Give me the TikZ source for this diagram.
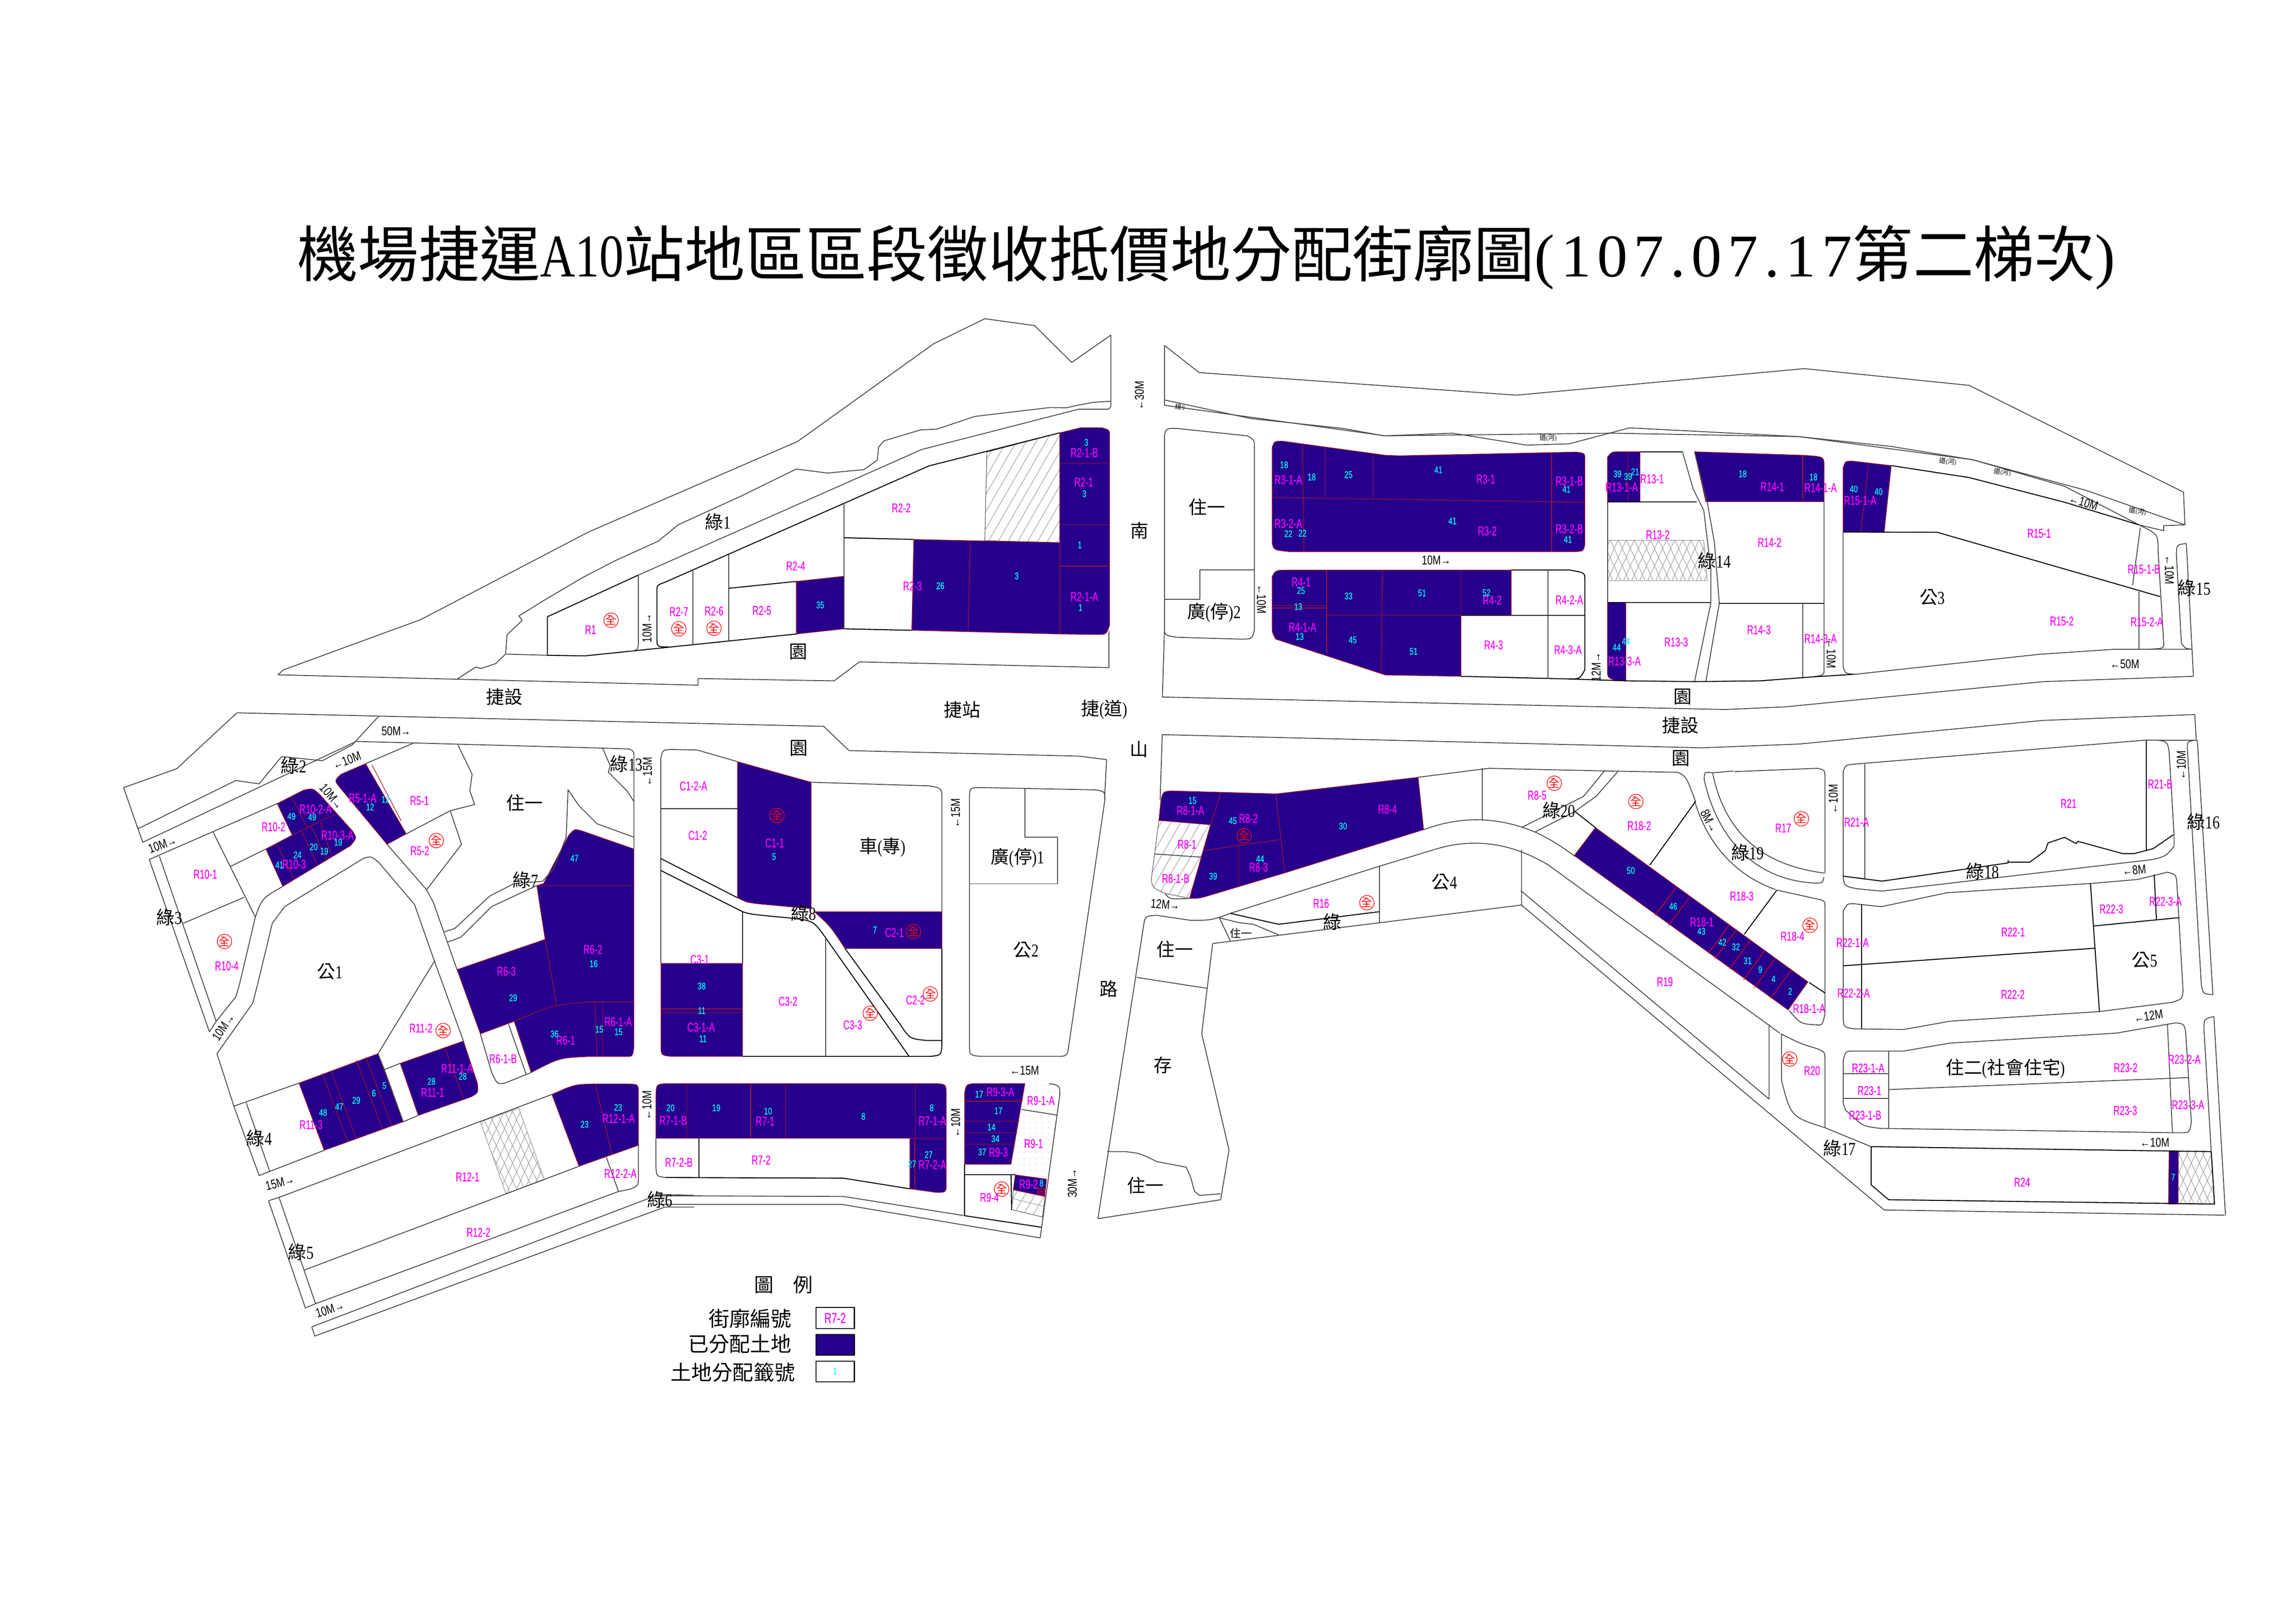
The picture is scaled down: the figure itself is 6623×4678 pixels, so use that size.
\documentclass[tikz,border=0pt]{standalone}
\usepackage{fontspec}
\usepackage{xcolor}
\usepackage{tikz}
\usetikzlibrary{patterns.meta}
\setmainfont[FakeStretch=0.8]{Liberation Serif}
\newfontfamily\cjk{Noto Sans CJK TC}
\newfontfamily\lotfont[FakeStretch=0.68,FakeBold=0.4]{Liberation Sans}
\newfontfamily\numfont[FakeStretch=0.75,FakeBold=0.4]{Liberation Sans}
\newfontfamily\roadfont[FakeStretch=0.77]{Liberation Sans}
\newfontfamily\titlelat[LetterSpace=10]{Liberation Serif}
\newfontfamily\titlenarrow[FakeStretch=0.8]{Liberation Serif}
\newcommand{\zh}[1]{{\cjk #1}}
\definecolor{landblue}{RGB}{38,0,140}
\definecolor{linered}{RGB}{170,20,40}
\definecolor{lotmagenta}{RGB}{255,0,255}
\definecolor{lotcyan}{RGB}{0,255,255}
\definecolor{plotgray}{RGB}{70,70,70}
\definecolor{hatchgray}{RGB}{165,165,165}
\tikzset{
  viewA/.style={shift={(3cm,-8.5cm)},x=0.019133cm,y=-0.008291cm},
  viewB/.style={shift={(33cm,-9.5cm)},x=0.020408cm,y=-0.007653cm},
  viewC/.style={shift={(3cm,-20.5cm)},x=0.010842cm,y=-0.012117cm},
  viewD/.style={shift={(18cm,-21cm)},x=0.009566cm,y=-0.009566cm},
  viewE/.style={shift={(32.5cm,-21cm)},x=0.012117cm,y=-0.009566cm},
  viewF/.style={shift={(50cm,-21cm)},x=0.009566cm,y=-0.009566cm},
  viewG/.style={shift={(18cm,-30.5cm)},x=0.009566cm,y=-0.006378cm},
  plotline/.style={draw=plotgray,line width=.7pt,line join=round},
  plotblack/.style={draw=black,line width=.8pt,line join=round},
  redline/.style={draw=linered,line width=.5pt},
  sold/.style={fill=landblue,draw=linered,line width=.5pt,line join=round},
  hatchlines/.style={pattern={Lines[angle=60,distance=7pt,line width=.5pt]},pattern color=hatchgray,draw=plotgray,line width=.4pt},
  crosslines/.style={pattern={Lines[angle=65,distance=6pt,line width=.5pt]},pattern color=hatchgray,draw=hatchgray,line width=.6pt,
    postaction={pattern={Lines[angle=-65,distance=6pt,line width=.5pt]},pattern color=hatchgray}},
  dotfill/.style={pattern={Dots[distance=5pt,radius=.35pt]},pattern color=hatchgray},
  lot/.style={inner sep=0pt,text=lotmagenta,font=\lotfont\fontsize{10.5}{10.5}\selectfont},
  num/.style={inner sep=0pt,text=lotcyan,font=\numfont\fontsize{8}{8}\selectfont},
  road/.style={inner sep=0pt,text=black,font=\roadfont\fontsize{10.5}{10.5}\selectfont},
  zone/.style={inner sep=0pt,text=black,font=\fontsize{15}{15}\selectfont},
  wee/.style={inner sep=0pt,text=black,font=\fontsize{5.5}{5.5}\selectfont},
  stamp/.style={circle,draw=red,text=red,inner sep=0pt,minimum size=.4cm,line width=.5pt,font=\fontsize{9}{9}\selectfont},
  legendtext/.style={inner sep=0pt,text=black,anchor=east,font=\fontsize{17}{17}\selectfont},
}
\begin{document}
\begin{tikzpicture}[x=0.01cm,y=-0.01cm]
\useasboundingbox (0,0) rectangle (6623,4678);
\fill[white] (0,0) rectangle (6623,4678);

\node[inner sep=0pt,font=\fontsize{49.8}{50}\selectfont] (drawingTitle) at (3480,743) {\zh{機場捷運}{\titlenarrow A10}\zh{站地區區段徵收抵價地分配街廓圖}{\titlelat (107.07.17}\zh{第二梯次}{\titlelat )}};

% roads that run across the views
\path[draw, plotline] (682,2056) -- (2376,2095) -- (2449,2165) -- (3113,2181) -- (3192,2191) -- (3186,2305);
\path[draw, plotline] (3351,2119) -- (4910,2157) -- (5191,2146) -- (5892,2078) -- (6331,2061) -- (6335,2133);
\path[draw, plotline] (4462,2492) -- (5134,2980);
\path[draw, plotline] (4387,2609) -- (5435,3490) -- (6416,3505);
\path[draw, plotline] (4387,2569) -- (5103,3170) -- (5103,2956);
\path[draw, plotline] (4940,2229) -- (5000,2224);
\path[draw, plotline] (4940,2229) .. controls (4975,2400) and (5080,2495) .. (5261,2518);
\path[draw, plotline] (4940,2229) .. controls (4916,2226) .. (4916,2250) .. controls (4960,2440) and (5080,2540) .. (5235,2547) .. controls (5258,2547) .. (5261,2530);
\path[draw, plotline] (4888,2310) .. controls (4930,2450) and (5020,2530) .. (5122,2566);
\path[sold] (4602,2387) -- (5215,2832) -- (5158,2913) -- (4541,2468) -- cycle;
\foreach \a/\b/\c/\d in {4837/2557/4774/2640,4874/2588/4813/2669,4989/2666/4928/2750,5007/2684/4946/2765,5049/2712/4989/2795,5089/2743/5029/2827,5120/2765/5060/2851,5167/2798/5107/2880}
  \path[draw, draw=red, line width=.5pt] (\a,\b) -- (\c,\d);

\begin{scope}[viewA]
\path[hatchlines] (1330,547) -- (1440,480) -- (1440,862) -- (1327,855) -- cycle;
\path[sold] (1043,997) -- (1115,979) -- (1115,1162) -- (1043,1180) -- cycle;
\path[sold] (1220,851) -- (1440,862) -- (1440,1180) -- (1217,1167) -- cycle;
\path[sold] (1440,480) -- (1472,462) -- (1503,462) .. controls (1515,470) .. (1515,490) -- (1515,1150) .. controls (1510,1182) .. (1497,1182) -- (1440,1180) -- cycle;
\path[draw, redline] (1305,857) -- (1302,1170);
\path[draw, redline] (1441,585) -- (1515,585);
\path[draw, redline] (1441,800) -- (1515,800);
\path[draw, redline] (1441,944) -- (1515,944);
\path[draw, plotline] (262,1322) -- (270,1305) -- (477,1130) -- (730,825) -- (1045,510) -- (1250,170) -- (1327,83) -- (1402,107) -- (1458,235) -- (1517,140) -- (1517,370) -- (1490,374) -- (1465,385) -- (1450,393) -- (1425,392) -- (1312,423) -- (1255,467) -- (1230,470) -- (1175,508) -- (1167,530) -- (1165,575) -- (1145,608) -- (1090,620) -- (1043,606) -- (960,700) -- (865,800) -- (835,857) -- (770,925) -- (720,985) -- (665,1060) -- (625,1117) -- (630,1133) -- (607,1183) -- (605,1250) -- (590,1283) -- (568,1300) -- (560,1295) -- (532,1337);
\path[draw, plotline] (262,1322) -- (895,1358) -- (895,1335) -- (1100,1343) -- (1138,1277) -- (1514,1297) -- (1514,1170);
\path[draw, plotline] (605,1250) -- (668,1254);
\path[draw, plotline] (1517,370) -- (1517,385) .. controls (1515,398) .. (1505,398) -- (1468,398) -- (1232,538) -- (805,975);
\path[draw, plotblack] (805,975) -- (668,1120) -- (668,1254) -- (725,1256) -- (1043,1180);
\path[draw, plotblack] (1115,1162) -- (1217,1167);
\path[draw, plotblack] (1440,480) -- (1243,595) -- (845,1000) .. controls (833,1010) .. (833,1030) -- (833,1195) .. controls (833,1225) .. (850,1225);
\path[draw, plotline] (805,975) -- (805,1200) .. controls (805,1235) .. (793,1240);
\path[draw, plotline] (887,960) -- (887,1218);
\path[draw, plotline] (941,905) -- (941,1205);
\path[draw, plotblack] (941,1021) -- (1043,997);
\path[draw, plotline] (1115,728) -- (1115,1162);
\path[draw, plotblack] (1115,845) -- (1220,851);
\foreach \x/\y [count=\i] in {764/1132,866/1162,919/1160}
  \node[stamp] (stampA\i) at (\x,\y) {\zh{全}};
\foreach \x/\y/\t in {733/1165/R1,866/1102/R2-7,919/1100/R2-6,991/1098/R2-5,1042/943/R2-4,1201/741/R2-2,1218/1013/R2-3,1477/549/R2-1-B,1476/651/R2-1,1477/1050/R2-1-A}
  \node[lot] (\t) at (\x,\y) {\t};
\foreach \x/\y/\t [count=\i] in {1260/1012/26,1375/978/3,1079/1079/35,1480/513/3,1477/692/3,1470/870/1,1471/1088/1}
  \node[num] (numA\i) at (\x,\y) {\t};
\foreach \x/\y/\t [count=\i] in {925/790/\zh{綠}1,1046/1242/\zh{園},603/1398/\zh{捷設},1293/1443/\zh{捷站},1507/1443/\zh{捷}(\zh{道}),1560/820/\zh{南}}
  \node[zone] (zoneA\i) at (\x,\y) {\t};
\foreach \x/\y/\r/\t [count=\i] in {818/1160/90/10M→,1560/350/90/←30M,440/1517/0/50M→}
  \node[road, rotate=\r] (roadA\i) at (\x,\y) {\t};
\end{scope}

\begin{scope}[viewB]
\path[crosslines] (654,793) -- (790,793) -- (795,945) -- (654,945) -- cycle;
\path[sold] (180,445) .. controls (183,420) .. (195,420) -- (340,473) -- (360,475) -- (610,461) .. controls (622,465) .. (622,490) -- (622,810) .. controls (620,835) .. (605,836) -- (205,836) .. controls (182,830) .. (180,800) -- cycle;
\path[draw, redline] (180,632) -- (622,650);
\path[draw, redline] (223,430) -- (225,836);
\path[draw, redline] (255,443) -- (255,632);
\path[draw, redline] (323,468) -- (323,637);
\path[draw, redline] (575,464) -- (575,836);
\path[sold] (180,930) .. controls (185,905) .. (205,905) -- (518,905) -- (518,1075) -- (447,1075) -- (447,1305) -- (340,1300) -- (185,1165) .. controls (180,1140) .. (180,1110) -- cycle;
\path[draw, redline] (257,905) -- (257,1215);
\path[draw, redline] (336,905) -- (334,1295);
\path[draw, redline] (447,905) -- (447,1075);
\path[draw, redline] (257,1075) -- (447,1075);
\path[draw, redline] (180,1038) -- (257,1038);
\path[draw, redline] (180,1048) -- (257,1048);
\path[sold] (654,480) .. controls (660,460) .. (670,460) -- (700,460) -- (700,648) -- (654,648) -- cycle;
\path[draw, redline] (683,460) -- (683,648);
\path[sold] (777,460) -- (930,473) .. controls (960,478) .. (960,510) -- (960,648) -- (793,648) -- cycle;
\path[draw, redline] (930,473) -- (930,648);
\path[sold] (654,1028) -- (680,1028) -- (680,1322) -- (665,1320) .. controls (654,1310) .. (654,1280) -- cycle;
\path[sold] (987,520) .. controls (990,495) .. (1000,495) -- (1055,512) -- (1045,762) -- (987,762) -- cycle;
\path[draw, redline] (1023,505) -- (1012,762);
\path[draw, plotline] (28,265) -- (28,60) -- (77,162) -- (525,247) -- (932,147) -- (1165,210) -- (1468,612) -- (1470,735) -- (1440,738) -- (1440,757) -- (1405,735);
\path[draw, plotline] (28,265) -- (150,335) -- (280,372) -- (338,400) -- (435,390) -- (540,435) -- (600,430) -- (685,370) -- (925,403) -- (1170,490) -- (1330,605) -- (1470,735);
\path[draw, plotline] (28,285) -- (340,400) -- (660,390) -- (925,403) -- (1055,440) -- (1170,490) -- (1300,590) -- (1405,735);
\path[draw, plotline] (28,265) -- (28,285);
\path[draw, plotline] (28,400) .. controls (30,372) .. (45,372) -- (145,400) .. controls (155,415) .. (155,440) -- (155,1130) .. controls (152,1165) .. (135,1165) -- (45,1158) .. controls (28,1150) .. (28,1125) -- cycle;
\path[draw, plotline] (155,905) -- (78,905) -- (78,1015) -- (28,1015);
\path[draw, plotblack] (518,905) -- (600,905) .. controls (622,915) .. (622,940) -- (622,1280) .. controls (615,1315) .. (600,1315) -- (447,1305);
\path[draw, plotblack] (447,1075) -- (622,1075);
\path[draw, plotline] (570,905) -- (570,1315);
\path[draw, plotblack] (700,460) -- (760,460);
\path[draw, plotblack] (654,648) -- (780,648);
\path[draw, plotline] (654,648) -- (654,1028);
\path[draw, plotblack] (654,1028) -- (800,1028);
\path[draw, plotline] (760,460) -- (775,600) -- (790,680) -- (800,900) -- (800,1030) -- (777,1325);
\path[draw, plotline] (777,460) -- (795,650) -- (805,800) -- (812,1030) -- (793,1325);
\path[draw, plotblack] (812,1030) -- (960,1030);
\path[draw, plotline] (930,1030) -- (930,1310);
\path[draw, plotline] (960,648) -- (960,1280) .. controls (960,1300) .. (945,1307);
\path[draw, plotblack] (600,1315) -- (680,1322) -- (777,1325) -- (870,1322) -- (945,1307) -- (1005,1297);
\path[draw, plotblack] (1055,512) -- (1165,557) -- (1300,650) -- (1405,735);
\path[draw, plotblack] (987,762) -- (1120,763) -- (1435,1005);
\path[draw, plotline] (987,762) -- (987,1270) .. controls (990,1295) .. (1005,1297) -- (1265,1222) -- (1372,1203) -- (1420,1203) .. controls (1440,1200) .. (1440,1180) -- (1432,830) .. controls (1432,770) .. (1405,735);
\path[draw, plotline] (1407,745) -- (1396,962);
\path[draw, plotline] (1405,985) -- (1405,1203);
\path[draw, plotline] (1472,805) .. controls (1458,810) .. (1458,850) -- (1465,1180) .. controls (1470,1200) .. (1480,1203) -- (1372,1203);
\path[draw, plotline] (1472,805) -- (1480,1203) -- (1482,1305);
\path[draw, plotline] (28,1125) -- (25,1383) -- (820,1430) -- (905,1420) -- (1270,1325) -- (1482,1305);
\foreach \x/\y/\t in {203/565/R3-1-A,482/563/R3-1,600/570/R3-1-B,203/730/R3-2-A,484/758/R3-2,600/750/R3-2-B,221/950/R4-1,491/1018/R4-2,600/1017/R4-2-A,223/1120/R4-1-A,493/1187/R4-3,598/1205/R4-3-A,717/562/R13-1,674/593/R13-1-A,887/591/R14-1,955/595/R14-1-A,725/772/R13-2,883/801/R14-2,751/1176/R13-3,678/1248/R13-3-A,868/1130/R14-3,955/1163/R14-3-A,1011/643/R15-1-A,1264/767/R15-1,1296/1097/R15-2,1412/902/R15-1-B,1416/1100/R15-2-A}
  \node[lot] (\t) at (\x,\y) {\t};
\foreach \x/\y/\t [count=\i] in {197/509/18,236/555/18,288/546/25,415/528/41,596/601/41,203/768/22,223/766/22,435/720/41,598/790/41,221/982/25,288/1003/33,392/991/51,483/990/52,217/1043/13,219/1155/13,294/1168/45,380/1211/51,668/543/39,683/553/39,693/535/21,845/543/18,945/555/18,680/1173/44,667/1196/44,1002/600/40,1037/610/40}
  \node[num] (numB\i) at (\x,\y) {\t};
\foreach \x/\y/\t [count=\i] in {88/668/\zh{住一},98/1065/\zh{廣}(\zh{停})2,805/870/\zh{綠}14,1113/1008/\zh{公}3,1483/972/\zh{綠}15,760/1382/\zh{園},757/1490/\zh{捷設}}
  \node[zone] (zoneB\i) at (\x,\y) {\t};
\foreach \x/\y/\r/\t [count=\i] in {412/868/0/10M→,165/1015/-90/←10M,970/1220/-90/←10M,638/1270/90/12M→,1448/905/-90/←10M,1327/650/-17/←10M,1385/1258/0/←50M}
  \node[road, rotate=\r] (roadB\i) at (\x,\y) {\t};
\foreach \x/\y/\r/\t [count=\i] in {50/292/-8/\zh{綠}9,570/408/0/\zh{道}(\zh{河}),1135/497/-8/\zh{道}(\zh{河}),1212/537/-8/\zh{道}(\zh{河}),1403/685/-8/\zh{道}(\zh{河})}
  \node[wee, rotate=\r] (weeB\i) at (\x,\y) {\t};
\end{scope}

\begin{scope}[viewC]
\path[crosslines] (1000,977) -- (1102,945) -- (1170,1115) -- (1068,1148) -- cycle;
\path[sold] (695,125) -- (803,292) -- (752,317) -- (625,180) .. controls (612,165) .. (630,150) -- cycle;
\path[draw, redline] (712,128) -- (790,262);
\path[sold] (460,220) -- (530,188) .. controls (555,183) .. (575,200) -- (660,285) .. controls (672,302) .. (655,320) -- (475,417) -- (430,328) -- (500,295) -- cycle;
\path[draw, redline] (500,205) -- (540,278);
\path[draw, redline] (500,295) -- (615,245);
\path[draw, redline] (525,285) -- (568,367);
\path[draw, redline] (550,272) -- (590,352);
\path[draw, redline] (575,265) -- (605,345);
\path[draw, redline] (460,318) -- (505,400);
\path[sold] (1150,415) -- (1168,410) -- (1235,295) .. controls (1250,280) .. (1270,285) -- (1408,328) -- (1408,800) .. controls (1405,822) .. (1385,822) -- (1285,822) .. controls (1210,825) .. (1135,860) -- (1090,738) -- (1000,768) -- (938,615) -- (1172,543) -- cycle;
\path[draw, redline] (1150,415) -- (1408,415);
\path[draw, redline] (1172,543) -- (1203,700);
\path[draw, redline] (1090,738) .. controls (1190,700) .. (1285,692) -- (1408,692);
\path[draw, redline] (1305,692) -- (1310,822);
\path[draw, redline] (1325,692) -- (1325,822);
\path[sold] (518,885) -- (728,815) -- (795,977) -- (585,1045) -- cycle;
\path[draw, redline] (580,862) -- (648,1025);
\path[draw, redline] (603,855) -- (670,1017);
\path[draw, redline] (670,830) -- (740,995);
\path[draw, redline] (695,823) -- (765,987);
\path[sold] (787,838) -- (955,785) -- (992,885) .. controls (995,908) .. (975,918) -- (835,962) -- cycle;
\path[draw, redline] (905,800) -- (955,920);
\path[sold] (1190,912) .. controls (1250,888) .. (1305,887) -- (1395,887) .. controls (1420,888) .. (1420,910) -- (1420,1033) -- (1262,1083) -- cycle;
\path[draw, redline] (1305,887) -- (1350,1055);
\path[draw, plotline] (90,280) -- (52,182) -- (193,137) -- (352,5);
\path[draw, plotline] (90,280) -- (350,165) -- (412,173) -- (472,108) -- (580,118) -- (660,80) -- (730,12);
\path[draw, plotline] (90,280) -- (103,312) -- (670,72) -- (1325,88) -- (1395,90) .. controls (1408,95) .. (1408,110) -- (1408,328);
\path[draw, plotline] (820,77) -- (695,125);
\path[draw, plotline] (940,80) -- (978,150) -- (972,190) -- (985,222) -- (920,237) -- (803,292);
\path[draw, plotline] (752,317) -- (857,425) -- (950,317) -- (920,237);
\path[draw, plotline] (857,425) -- (875,455) -- (938,615);
\path[draw, plotline] (905,525) -- (932,517) -- (1025,440) -- (1090,410) -- (1165,405) -- (1195,375) -- (1228,300) -- (1233,187) -- (1262,225) -- (1310,268) -- (1408,300);
\path[draw, plotline] (912,550) -- (948,538) -- (1030,465) -- (1150,415);
\path[draw, plotline] (1325,88) -- (1345,130) -- (1340,145) -- (1390,190) -- (1408,215);
\path[draw, plotline] (120,353) -- (460,220);
\path[draw, plotline] (120,353) -- (280,763) -- (298,738) -- (350,680) -- (360,650) -- (402,490) .. controls (420,445) .. (475,417);
\path[draw, plotline] (147,345) -- (298,738);
\path[draw, plotline] (210,505) -- (372,443);
\path[draw, plotline] (290,288) -- (402,490);
\path[draw, plotline] (335,370) -- (430,328);
\path[draw, plotline] (300,815) -- (395,695) -- (408,650) -- (447,505) -- (480,465) -- (690,350) .. controls (710,345) .. (730,360) -- (825,460) -- (878,595) -- (955,785);
\path[draw, plotline] (300,815) -- (345,940) -- (518,885);
\path[draw, plotline] (345,940) -- (412,1105) -- (585,1045);
\path[draw, plotline] (378,932) -- (440,1095);
\path[draw, plotline] (728,815) -- (878,595);
\path[draw, plotline] (728,815) -- (745,853) -- (787,838);
\path[draw, plotline] (745,853) -- (795,977);
\path[draw, plotline] (795,977) -- (835,962);
\path[draw, plotline] (1000,768) -- (1030,860) .. controls (1045,888) .. (1065,885) -- (1135,860);
\path[draw, plotline] (1075,745) -- (1122,865);
\path[draw, plotline] (465,1157) -- (1190,912);
\path[draw, plotline] (437,1165) -- (465,1157) -- (562,1410);
\path[draw, plotline] (437,1165) -- (535,1420) -- (562,1410) -- (1367,1143);
\path[draw, plotline] (532,1330) -- (1262,1083);
\path[draw, plotline] (1420,1033) -- (1420,1105) .. controls (1420,1130) .. (1395,1138) -- (1367,1143) -- (1335,1062);
\path[draw, plotline] (552,1465) -- (1475,1150) -- (1568,1152);
\path[draw, plotline] (552,1465) -- (560,1487) -- (1490,1180) -- (1568,1180);
\foreach \x/\y [count=\i] in {883/308,320/548,901/760}
  \node[stamp] (stampC\i) at (\x,\y) {\zh{全}};
\foreach \x/\y/\t in {687/207/R5-1-A,838/213/R5-1,562/233/R10-2-A,450/275/R10-2,620/295/R10-3-A,505/364/R10-3,269/388/R10-1,839/332/R5-2,326/606/R10-4,1299/567/R6-2,1069/619/R6-3,1366/739/R6-1-A,1227/783/R6-1,842/754/R11-2,1060/827/R6-1-B,938/850/R11-1-A,873/907/R11-1,1367/969/R12-1-A,550/984/R11-3,966/1108/R12-1,1372/1100/R12-2-A,995/1240/R12-2}
  \node[lot] (\t) at (\x,\y) {\t};
\foreach \x/\y/\t [count=\i] in {748/210/12,707/228/12,498/250/49,553/252/49,622/312/19,557/323/20,585/333/19,514/342/24,466/366/41,1250/350/47,1301/601/16,1087/682/29,1316/757/15,1367/763/15,1197/768/36,953/869/28,870/881/28,745/891/5,717/909/6,670/926/29,625/941/47,582/955/48,1366/943/23,1277/983/23}
  \node[num] (numC\i) at (\x,\y) {\t};
\foreach \x/\y/\t [count=\i] in {504/130/\zh{綠}2,1118/218/\zh{住一},1388/125/\zh{綠}13,1120/402/\zh{綠}7,173/490/\zh{綠}3,600/620/\zh{公}1,412/1016/\zh{綠}4,523/1287/\zh{綠}5}
  \node[zone] (zoneC\i) at (\x,\y) {\t};
\foreach \x/\y/\r/\t [count=\i] in {155/317/20/10M→,645/117/20/←10M,605/203/-50/10M→,317/752/55/10M→,467/1122/15/15M→,600/1423/18/10M→}
  \node[road, rotate=\r] (roadC\i) at (\x,\y) {\t};
\end{scope}

\begin{scope}[viewD]
\path[hatchlines] (1172,1390) -- (1267,1410) -- (1260,1472) -- (1167,1450) -- cycle;
\path[draw, hatchgray, line width=.5pt] (1172,1417) -- (1265,1440);
\path[dotfill] (1207,1070) -- (1280,1070) .. controls (1312,1075) .. (1312,1105) -- (1272,1360) -- (1165,1343) -- cycle;
\path[sold] (341,100) -- (563,162) -- (563,543) -- (420,530) .. controls (370,525) .. (341,510) -- cycle;
\path[sold] (572,552) -- (957,552) -- (957,663) -- (665,663) .. controls (620,595) .. (572,552) -- cycle;
\path[sold] (110,708) -- (356,708) -- (356,988) -- (140,988) .. controls (110,985) .. (110,950) -- cycle;
\path[draw, redline] (110,845) -- (356,845);
\path[draw, redline] (110,857) -- (356,857);
\path[sold] (95,1100) .. controls (97,1072) .. (125,1070) -- (940,1070) .. controls (970,1072) .. (970,1105) -- (970,1235) -- (95,1235) -- cycle;
\path[draw, redline] (188,1070) -- (188,1235);
\path[draw, redline] (381,1070) -- (381,1235);
\path[draw, redline] (485,1070) -- (485,1235);
\path[draw, redline] (877,1070) -- (877,1235);
\path[sold] (860,1235) -- (970,1235) -- (970,1370) .. controls (970,1398) .. (940,1398) -- (860,1387) -- cycle;
\path[draw, redline] (875,1235) -- (875,1390);
\path[sold] (1025,1100) .. controls (1030,1072) .. (1055,1070) -- (1207,1070) -- (1165,1313) -- (1025,1313) -- cycle;
\path[draw, redline] (1025,1123) -- (1200,1123);
\path[draw, redline] (1025,1183) -- (1190,1183);
\path[draw, redline] (1025,1218) -- (1184,1218);
\path[draw, redline] (1025,1253) -- (1178,1253);
\path[sold] (1178,1345) -- (1272,1358) -- (1267,1410) -- (1172,1390) -- cycle;
\path[draw, plotline] (110,90) .. controls (115,65) .. (140,63) -- (220,65) -- (341,100);
\path[draw, plotline] (563,162) -- (920,173) .. controls (957,180) .. (957,215) -- (957,552);
\path[draw, plotblack] (957,663) -- (957,950) .. controls (955,985) .. (920,988) -- (356,988);
\path[draw, plotline] (110,90) -- (110,708);
\path[draw, plotblack] (110,242) -- (341,242);
\path[draw, plotblack] (110,392) -- (341,510);
\path[draw, plotblack] (110,428) -- (356,552) .. controls (380,560) .. (510,572) .. controls (570,580) .. (606,630) -- (858,988);
\path[draw, plotblack] (665,663) -- (830,890) .. controls (860,935) .. (910,940) -- (957,940);
\path[draw, plotblack] (356,552) -- (356,708);
\path[draw, plotline] (606,630) -- (606,988);
\path[draw, plotline] (1040,215) .. controls (1040,178) .. (1075,178) -- (1420,185) .. controls (1448,190) .. (1448,215) -- (1340,950) .. controls (1335,988) .. (1300,988) -- (1075,988) .. controls (1040,985) .. (1040,950) -- cycle;
\path[draw, plotline] (1207,180) -- (1207,327) -- (1305,327) -- (1305,468) -- (1040,468);
\path[draw, plotblack] (125,1353) -- (660,1355) -- (860,1387);
\path[draw, plotline] (95,1235) -- (95,1320) .. controls (97,1350) .. (125,1353);
\path[draw, plotblack] (225,1235) -- (225,1353);
\path[draw, plotblack] (1025,1313) -- (1025,1468) -- (1258,1503);
\path[draw, plotblack] (1025,1345) -- (1165,1345) -- (1178,1345);
\path[draw, plotblack] (1165,1343) -- (1167,1450);
\path[draw, plotline] (1197,1148) -- (1305,1165);
\path[draw, plotline] (1280,1070) .. controls (1312,1075) .. (1312,1105) -- (1253,1535) -- (655,1434) -- (105,1434);
\path[draw, plotline] (105,1408) -- (660,1410) -- (1025,1468);
\foreach \x/\y [count=\i] in {460/262,871/612,741/858,922/800,1137/1388}
  \node[stamp] (stampD\i) at (\x,\y) {\zh{全}};
\node[stamp, minimum size=.22cm, font=\fontsize{4}{4}\selectfont] (stampD6) at (1256,1395) {\zh{全}};
\foreach \x/\y/\t in {208/173/C1-2-A,221/322/C1-2,453/345/C1-1,814/615/C2-1,227/696/C3-1,231/900/C3-1-A,493/822/C3-2,688/893/C3-3,877/818/C2-2,147/1181/R7-1-B,424/1183/R7-1,928/1182/R7-1-A,164/1307/R7-2-B,412/1300/R7-2,928/1314/R7-2-A,1133/1095/R9-3-A,1127/1277/R9-3,1255/1121/R9-1-A,1233/1251/R9-1,1218/1373/R9-2,1100/1413/R9-4}
  \node[lot] (\t) at (\x,\y) {\t};
\foreach \x/\y/\t [count=\i] in {451/386/5,755/607/7,233/776/38,233/850/11,237/935/11,139/1143/20,277/1143/19,433/1153/10,720/1169/8,926/1143/8,867/1312/27,917/1284/27,1069/1102/17,1127/1152/17,1106/1201/14,1118/1236/34,1078/1276/37,1257/1370/8}
  \node[num] (numD\i) at (\x,\y) {\t};
\foreach \x/\y/\t [count=\i] in {525/60/\zh{園},778/358/\zh{車}(\zh{專}),1185/390/\zh{廣}(\zh{停})1,1210/668/\zh{公}2,1460/785/\zh{路},540/557/\zh{綠}8,107/1420/\zh{綠}6}
  \node[zone] (zoneD\i) at (\x,\y) {\t};
\foreach \x/\y/\r/\t [count=\i] in {70/130/90/←15M,998/255/90/←15M,1206/1030/0/←15M,68/1135/90/←10M,998/1188/90/←10M,1350/1370/90/30M→}
  \node[road, rotate=\r] (roadD\i) at (\x,\y) {\t};
\end{scope}

\begin{scope}[viewE]
\path[hatchlines] (75,277) -- (198,290) -- (148,512) -- (90,497) .. controls (60,480) .. (57,455) -- cycle;
\path[draw, plotline] (65,378) -- (178,388);
\path[sold] (75,277) -- (80,215) .. controls (85,190) .. (105,188) -- (355,197) -- (692,147) -- (705,305) -- (375,435) -- (190,505) .. controls (170,512) .. (148,512) -- (198,290) -- cycle;
\path[draw, redline] (222,195) -- (198,290);
\path[draw, redline] (353,197) -- (375,435);
\path[draw, redline] (180,368) -- (363,335);
\path[draw, redline] (265,355) -- (265,478);
\path[draw, plotline] (83,20) -- (78,215);
\path[draw, plotline] (692,147) -- (860,120) -- (1135,128) -- (1310,132) .. controls (1330,145) .. (1352,220);
\path[draw, plotline] (845,120) -- (845,277);
\path[draw, plotline] (705,305) .. controls (810,255) and (900,275) .. (970,312) .. controls (1010,335) and (1040,362) .. (1065,385);
\path[draw, plotline] (245,557) -- (600,415) -- (730,365) .. controls (830,325) and (920,350) .. (1000,410);
\path[draw, plotline] (148,512) .. controls (100,515) .. (90,497);
\path[draw, plotline] (-70,1477) -- (38,600) .. controls (42,565) .. (70,563) -- (150,578) .. controls (200,578) .. (245,557);
\path[draw, plotline] (22,750) -- (190,783);
\path[draw, plotline] (203,648) -- (190,783) -- (177,920) -- (242,1270) -- (222,1420) -- (-70,1477);
\path[draw, plotline] (203,648) -- (938,532) -- (938,365);
\path[draw, plotline] (218,568) -- (245,640);
\path[draw, plotline] (218,570) -- (265,585) -- (300,590) -- (360,622);
\path[draw, plotblack] (245,557) -- (360,590) -- (600,552);
\path[draw, plotline] (600,415) -- (600,585);
\path[draw, plotline] (-48,1275) -- (-5,1275) .. controls (30,1280) .. (70,1305) -- (140,1322) -- (150,1350) -- (160,1395) -- (172,1407) -- (222,1402);
\path[draw, plotline] (1135,128) -- (1105,175) -- (1085,205) -- (940,297);
\path[draw, plotline] (1167,130) -- (1115,205) -- (1065,250) -- (970,312);
\path[draw, plotblack] (1065,250) -- (1115,300);
\path[draw, plotblack] (1352,220) -- (1243,412);
\foreach \x/\y [count=\i] in {278/323,1016/165,1210/220,570/525}
  \node[stamp] (stampE\i) at (\x,\y) {\zh{全}};
\foreach \x/\y/\t in {150/247/R8-1-A,288/271/R8-2,619/243/R8-4,142/349/R8-1,115/452/R8-1-B,312/418/R8-3,975/201/R8-5,1218/293/R18-2,1462/505/R18-3,1367/583/R18-1,1279/763/R19,461/527/R16}
  \node[lot] (\t) at (\x,\y) {\t};
\foreach \x/\y/\t [count=\i] in {155/217/15,251/278/45,513/294/30,204/445/39,316/393/44,1198/428/50,1299/536/46,1366/611/43,1416/644/42,1448/658/32}
  \node[num] (numE\i) at (\x,\y) {\t};
\foreach \x/\y/\t [count=\i] in {28/62/\zh{山},1317/90/\zh{園},1027/246/\zh{綠}20,754/463/\zh{公}4,488/582/\zh{綠},113/665/\zh{住一},85/1015/\zh{存},43/1377/\zh{住一}}
  \node[zone] (zoneE\i) at (\x,\y) {\t};
\node[zone, font=\fontsize{9}{9}\selectfont] (zoneE9) at (270,617) {\zh{住一}};
\foreach \x/\y/\r/\t [count=\i] in {1385/278/-62/8M→,90/530/-5/12M→}
  \node[road, rotate=\r] (roadE\i) at (\x,\y) {\t};
\end{scope}

\begin{scope}[viewF]
\path[dotfill] (225,765) -- (273,797) -- (273,860) .. controls (265,895) .. (245,893) .. controls (200,890) .. (165,850) -- cycle;
\path[crosslines] (1338,1273) -- (1437,1275) -- (1447,1433) -- (1337,1433) -- cycle;
\path[sold] (1310,1273) -- (1338,1273) -- (1337,1433) -- (1308,1433) -- cycle;
\path[draw, plotline] (0,130) -- (250,120) .. controls (273,125) .. (273,150) -- (273,437);
\path[draw, plotline] (128,487) -- (255,515) .. controls (273,520) .. (273,540) -- (273,860);
\path[draw, plotblack] (128,487) -- (30,620);
\path[draw, plotblack] (225,765) -- (273,797);
\path[draw, plotline] (165,850) .. controls (200,890) .. (245,893) .. controls (265,895) .. (273,860);
\path[draw, plotline] (328,130) .. controls (335,110) .. (355,108) -- (1240,35) -- (1275,35) .. controls (1305,40) .. (1310,70) -- (1325,320) -- (1325,355) .. controls (1300,385) .. (1260,395) -- (445,490) .. controls (330,480) .. (328,445) -- cycle;
\path[draw, plotline] (393,108) -- (393,455);
\path[draw, plotblack] (1241,35) -- (1241,368);
\path[draw, plotblack] (328,445) -- (445,460) -- (825,405) -- (825,397) -- (825,403) -- (890,403) -- (937,368) -- (945,345) -- (995,328) -- (1030,347) -- (1035,340) -- (1170,377) -- (1205,377) -- (1262,362) -- (1323,320);
\path[draw, plotline] (1275,35) -- (1395,35);
\path[draw, plotline] (328,550) .. controls (340,528) .. (360,528) -- (443,537) -- (640,495) -- (1075,467) -- (1215,455) -- (1305,433) .. controls (1330,440) .. (1333,460) -- (1352,790) .. controls (1350,815) .. (1320,825) -- (1100,853) -- (650,882) -- (510,907) -- (360,905) .. controls (330,900) .. (328,875) -- cycle;
\path[draw, plotblack] (383,530) -- (383,905);
\path[draw, plotblack] (328,715) -- (1088,662);
\path[draw, plotblack] (1073,467) -- (1100,853);
\path[draw, plotblack] (1084,595) -- (1340,570);
\path[draw, plotblack] (1265,440) -- (1272,577);
\path[draw, plotline] (328,1000) .. controls (335,972) .. (360,972) -- (510,972) -- (650,948) -- (1150,918) -- (1330,887) .. controls (1355,890) .. (1360,915) -- (1377,1185) .. controls (1372,1218) .. (1345,1218) -- (1320,1218) -- (440,1205) .. controls (400,1200) .. (380,1190) -- (335,1150) -- (328,1130) -- cycle;
\path[draw, plotline] (465,972) -- (465,1205);
\path[draw, plotline] (328,1040) -- (465,1040);
\path[draw, plotline] (328,1115) -- (465,1115);
\path[draw, plotline] (465,1088) -- (1368,1052);
\path[draw, plotline] (1305,890) -- (1320,1218);
\path[draw, plotblack] (412,1260) -- (1437,1275) -- (1447,1433) -- (465,1420) -- (412,1375) -- cycle;
\path[draw, plotline] (273,1203) -- (412,1260);
\path[draw, plotline] (140,920) .. controls (200,950) .. (250,965) .. controls (273,975) .. (273,1000) -- (273,1203);
\path[draw, plotline] (142,920) -- (142,1060) .. controls (170,1170) .. (273,1203);
\path[draw, plotline] (1395,35) .. controls (1365,38) .. (1365,60) -- (1407,770) .. controls (1412,800) .. (1442,802) -- (1395,35);
\path[draw, plotline] (1445,868) .. controls (1415,875) .. (1415,905) -- (1437,1275);
\path[draw, plotline] (1445,868) -- (1480,1468);
\foreach \x/\y [count=\i] in {202/272,228/593,167/996}
  \node[stamp] (stampF\i) at (\x,\y) {\zh{全}};
\foreach \x/\y/\t in {147/300/R17,368/282/R21-A,1007/226/R21,1283/167/R21-B,356/645/R22-1-A,840/613/R22-1,1136/544/R22-3,1299/521/R22-3-A,359/797/R22-2-A,839/801/R22-2,175/626/R18-4,225/844/R18-1-A,234/1031/R20,403/1023/R23-1-A,407/1091/R23-1,394/1165/R23-1-B,1179/1022/R23-2,1178/1151/R23-3,1356/997/R23-2-A,1367/1134/R23-3-A,867/1367/R24}
  \node[lot] (\t) at (\x,\y) {\t};
\foreach \x/\y/\t [count=\i] in {40/700/31,78/726/9,118/755/4,168/792/2,1322/1352/7}
  \node[num] (numF\i) at (\x,\y) {\t};
\foreach \x/\y/\t [count=\i] in {1414/281/\zh{綠}16,40/373/\zh{綠}19,748/430/\zh{綠}18,1236/698/\zh{公}5,817/1025/\zh{住二}(\zh{社會住宅}),317/1265/\zh{綠}17}
  \node[zone] (zoneF\i) at (\x,\y) {\t};
\foreach \x/\y/\r/\t [count=\i] in {298/212/90/←10M,1347/110/90/←10M,1205/427/5/←8M,1248/866/8/←12M,1267/1247/0/←10M}
  \node[road, rotate=\r] (roadF\i) at (\x,\y) {\t};
\end{scope}

\begin{scope}[viewG]
\node[zone, font=\fontsize{16}{16}\selectfont] (legendTitle) at (480,1025) {\zh{圖\quad 例}};
\node[legendtext] (legendOne) at (505,1178) {\zh{街廓編號}};
\node[legendtext] (legendTwo) at (505,1293) {\zh{已分配土地}};
\node[legendtext] (legendThree) at (515,1420) {\zh{土地分配籤號}};
\path[draw, plotblack] (578,1128) rectangle (693,1223);
\path[fill=landblue, draw=black, line width=.8pt] (578,1250) rectangle (693,1343);
\path[draw, plotblack] (578,1370) rectangle (693,1463);
\node[lot, font=\lotfont\fontsize{12}{12}\selectfont] (legendLot) at (635,1175) {R7-2};
\node[num] (legendNum) at (635,1415) {1};
\end{scope}
\end{tikzpicture}
\end{document}
